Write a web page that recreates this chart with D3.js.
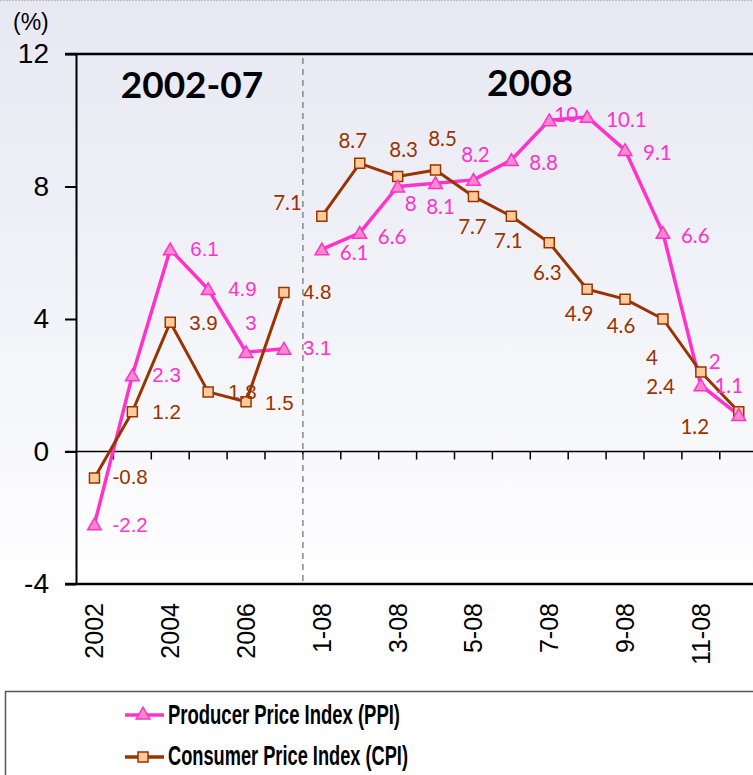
<!DOCTYPE html>
<html>
<head>
<meta charset="utf-8">
<script src="https://cdn.jsdelivr.net/npm/d3@7/dist/d3.min.js"></script>
<style>
  html, body { margin: 0; padding: 0; background: #fff; }
  svg { display: block; }
</style>
</head>
<body>
<svg id="chart" width="753" height="775"></svg>
<script>
// ---------- DATA ----------
const categories = ["2002","2003","2004","2005","2006","2007",
  "1-08","2-08","3-08","4-08","5-08","6-08","7-08","8-08","9-08","10-08","11-08","12-08"];
const ppiValues = [-2.2, 2.3, 6.1, 4.9, 3, 3.1, 6.1, 6.6, 8, 8.1, 8.2, 8.8, 10, 10.1, 9.1, 6.6, 2, 1.1];
const cpiValues = [-0.8, 1.2, 3.9, 1.8, 1.5, 4.8, 7.1, 8.7, 8.3, 8.5, 7.7, 7.1, 6.3, 4.9, 4.6, 4, 2.4, 1.2];
const yTickValues = [-4, 0, 4, 8, 12];
const xTickLabels = ["2002","2004","2006","1-08","3-08","5-08","7-08","9-08","11-08"];
const periodTitles = ["2002-07", "2008"];
const seriesNames = ["Producer Price Index (PPI)", "Consumer Price Index (CPI)"];
const yearlyCount = 6; // first 6 categories are annual, rest monthly 2008

// ---------- LABEL PLACEMENT (layout only) ----------
const ppiLabelPos = [
  ["start",18,0],["start",20,-1],["start",20,-1],["start",20,-1],["middle",5,-30],["start",19,-1],
  ["start",18,3],["start",18,4],["start",7,17],["middle",5,23],["middle",2,-25],["start",18,3],
  ["middle",17,-6],["start",19,3],["start",18,3],["start",18,3],["start",8,-24],["middle",-10,-29]];
const cpiLabelPos = [
  ["start",18,-1],["start",20,0],["start",19,0],["start",20,0],["start",19,1],["start",19,-1],
  ["end",-20,-14],["middle",-7,-23],["middle",6,-27],["middle",7,-31],["middle",-1,30],["middle",-3,24],
  ["middle",-2,30],["middle",-8,24],["middle",-4,26],["middle",-11,39],["end",-26,15],["middle",-44,15]];

const PPI_COLOR = "#ff33cc", PPI_FILL = "#ff88cc";
const CPI_COLOR = "#993300", CPI_FILL = "#ffcc99";

const svg = d3.select("#chart");
const W = 753, H = 775;

// background gradient
const defs = svg.append("defs");
const grad = defs.append("linearGradient").attr("id","bg")
  .attr("x1",0).attr("y1",0).attr("x2",0).attr("y2",1);
grad.append("stop").attr("offset","0").attr("stop-color","#e7e8f2");
grad.append("stop").attr("offset","0.2").attr("stop-color","#ecedf5");
grad.append("stop").attr("offset","0.78").attr("stop-color","#ffffff");
grad.append("stop").attr("offset","1").attr("stop-color","#ffffff");
svg.append("rect").attr("width",W).attr("height",H).attr("fill","url(#bg)");
svg.append("line").attr("x1",0).attr("x2",W).attr("y1",0.5).attr("y2",0.5)
  .attr("stroke","#bbb").attr("stroke-dasharray","2,1");

// scales
const x = d3.scaleBand().domain(categories).range([75.5, 75.5 + 37.9*18]).padding(0);
const cx = c => x(c) + x.bandwidth()/2;
const y = d3.scaleLinear().domain([-4, 12]).range([584, 54]);

// Y axis
const yAxis = svg.append("g").attr("transform","translate(76,0)")
  .call(d3.axisLeft(y).tickValues(yTickValues).tickSize(11).tickSizeOuter(0).tickPadding(16)
    .tickFormat(d => String(d)));
yAxis.select(".domain").attr("stroke","#000").attr("stroke-width",2);
yAxis.selectAll(".tick line").attr("stroke","#000").attr("stroke-width",2);
yAxis.selectAll(".tick text").attr("font-family","Liberation Sans, Arial, sans-serif")
  .attr("font-size",28).attr("fill","#000");

// top & bottom frame lines
svg.append("line").attr("x1",65).attr("x2",W).attr("y1",y(12)).attr("y2",y(12)).attr("stroke","#000").attr("stroke-width",2.5);
svg.append("line").attr("x1",65).attr("x2",W).attr("y1",y(-4)).attr("y2",y(-4)).attr("stroke","#000").attr("stroke-width",2.5);
// zero line
svg.append("line").attr("x1",65).attr("x2",W).attr("y1",y(0)).attr("y2",y(0)).attr("stroke","#000").attr("stroke-width",1.5);
// tick marks on zero line at category boundaries
svg.append("g").selectAll("line").data(categories)
  .join("line")
  .attr("x1",(d,i)=> x(categories[0]) + x.bandwidth()*(i+1))
  .attr("x2",(d,i)=> x(categories[0]) + x.bandwidth()*(i+1))
  .attr("y1",y(0)).attr("y2",y(0)+8).attr("stroke","#000").attr("stroke-width",1.5);

// dashed separator between 2007 and 1-08
const sepX = x(categories[yearlyCount]);
svg.append("line").attr("x1",sepX).attr("x2",sepX).attr("y1",y(12)+4).attr("y2",y(-4))
  .attr("stroke","#888").attr("stroke-width",1.5).attr("stroke-dasharray","6,5");

// X tick labels (rotated)
const xl = svg.append("g").selectAll("g").data(xTickLabels).join("g")
  .attr("transform", d => `translate(${cx(d)},603)`);
xl.append("text").attr("transform","rotate(-90)").attr("text-anchor","end").attr("dy","0.36em")
  .attr("font-family","Liberation Sans, Arial, sans-serif").attr("font-size",25).attr("fill","#000")
  .text(d => d);

// (%) label
svg.append("text").attr("x",13).attr("y",30).attr("font-family","Liberation Sans, Arial, sans-serif")
  .attr("font-size",23).attr("fill","#000").text("(%)");

// period titles
svg.append("text").attr("x",192).attr("y",98).attr("text-anchor","middle")
  .attr("font-family","Lato, sans-serif").attr("font-weight",700).attr("font-size",37).attr("fill","#000")
  .text(periodTitles[0]);
svg.append("text").attr("x",530).attr("y",96).attr("text-anchor","middle")
  .attr("font-family","Lato, sans-serif").attr("font-weight",700).attr("font-size",37).attr("fill","#000")
  .text(periodTitles[1]);

// series
function seriesData(vals){ return categories.map((c,i)=>({c, v: vals[i], i})); }
const ppi = seriesData(ppiValues), cpi = seriesData(cpiValues);
const line = d3.line().x(d=>cx(d.c)).y(d=>y(d.v));

function drawLines(data, color, width){
  const segs = [data.slice(0,yearlyCount), data.slice(yearlyCount)];
  svg.append("g").selectAll("path").data(segs).join("path")
    .attr("d", line).attr("fill","none").attr("stroke",color).attr("stroke-width",width)
    .attr("stroke-linejoin","round");
}
drawLines(ppi, PPI_COLOR, 3.5);
drawLines(cpi, CPI_COLOR, 3);

const tri = d3.symbol().type(d3.symbolTriangle).size(80);
const sq = d3.symbol().type(d3.symbolSquare).size(100);

svg.append("g").selectAll("path").data(cpi).join("path")
  .attr("d", sq).attr("transform", d=>`translate(${cx(d.c)},${y(d.v)})`)
  .attr("fill",CPI_FILL).attr("stroke",CPI_COLOR).attr("stroke-width",1.5);
svg.append("g").selectAll("path").data(ppi).join("path")
  .attr("d", tri).attr("transform", d=>`translate(${cx(d.c)},${y(d.v)+1.5})`)
  .attr("fill",PPI_FILL).attr("stroke",PPI_COLOR).attr("stroke-width",1.5);

// data labels
function drawLabels(data, pos, color){
  svg.append("g").selectAll("text").data(data).join("text")
    .attr("x", d => cx(d.c) + pos[d.i][1])
    .attr("y", d => y(d.v) + pos[d.i][2])
    .attr("dy","0.36em")
    .attr("text-anchor", d => pos[d.i][0])
    .attr("font-family", d => d.i < yearlyCount ? "Liberation Sans, Arial, sans-serif" : "Lato, sans-serif")
    .attr("font-size", 20.5)
    .attr("fill", color)
    .text(d => d.v);
}
drawLabels(ppi, ppiLabelPos, PPI_COLOR);
drawLabels(cpi, cpiLabelPos, CPI_COLOR);

// legend
svg.append("rect").attr("x",5.5).attr("y",691.5).attr("width",800).attr("height",120)
  .attr("fill","#fff").attr("stroke","#555").attr("stroke-width",1.5);
const legendItems = [
  {name: seriesNames[0], color: PPI_COLOR, fill: PPI_FILL, sym: tri, ly: 715, ty: 724, len: 232},
  {name: seriesNames[1], color: CPI_COLOR, fill: CPI_FILL, sym: sq, ly: 757, ty: 765, len: 240}];
const lg = svg.append("g").selectAll("g").data(legendItems).join("g");
lg.append("line").attr("x1",125).attr("x2",164).attr("y1",d=>d.ly).attr("y2",d=>d.ly)
  .attr("stroke",d=>d.color).attr("stroke-width",3.5);
lg.append("path").attr("d",d=>d.sym()).attr("transform",d=>`translate(143,${d.ly})`)
  .attr("fill",d=>d.fill).attr("stroke",d=>d.color).attr("stroke-width",1.5);
lg.append("text").attr("x",168).attr("y",d=>d.ty)
  .attr("font-family","Liberation Sans, Arial, sans-serif").attr("font-weight",700).attr("font-size",28)
  .attr("textLength",d=>d.len).attr("lengthAdjust","spacingAndGlyphs").attr("fill","#000")
  .text(d=>d.name);
</script>
</body>
</html>
